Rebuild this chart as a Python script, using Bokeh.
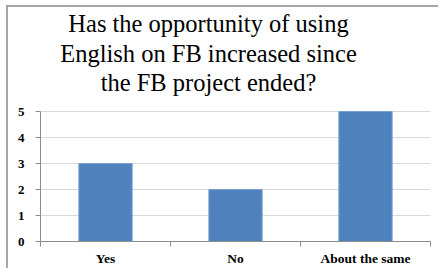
from bokeh.plotting import figure
from bokeh.models import ColumnDataSource, FixedTicker, Range1d
from bokeh.core.properties import value
from bokeh.embed import file_html
from bokeh.resources import INLINE

categories = ["Yes", "No", "About the same"]
counts = [3, 2, 5]
y_ticks = [0, 1, 2, 3, 4, 5]
title_lines = ["Has the opportunity of using", "English on FB increased since", "the FB project ended?"]

ymax = max(y_ticks)
y_top = 9.0  # room above the value axis for the title
xpos = [i + 0.5 for i in range(len(categories))]
src = ColumnDataSource(dict(x=xpos, top=counts))

p = figure(frame_width=390, frame_height=234, output_backend="svg", toolbar_location=None,
           x_range=Range1d(0, len(categories)), y_range=Range1d(0, y_top),
           min_border_left=32, min_border_right=8, min_border_bottom=25, min_border_top=0)
p.title = None

p.vbar(x="x", top="top", width=0.41, source=src, fill_color="#4F81BD", line_color="#7aa0d0", line_width=1)

tsrc = ColumnDataSource(dict(x=[len(categories) / 2] * len(title_lines), y=[y_top] * len(title_lines),
                             text=title_lines, yo=[16 + 29.5 * i for i in range(len(title_lines))]))
p.text(x="x", y="y", text="text", source=tsrc, x_offset=-27, y_offset="yo",
       text_align="center", text_baseline="alphabetic", text_font=value("Liberation Serif"),
       text_font_size="24.5px", text_color="#000000")

p.xaxis.ticker = FixedTicker(ticks=xpos, minor_ticks=list(range(len(categories) + 1)))
p.xaxis.major_label_overrides = {x: c for x, c in zip(xpos, categories)}
p.xaxis.major_tick_out = 0
p.xaxis.major_tick_in = 0
p.xaxis.minor_tick_out = 5
p.xaxis.minor_tick_in = 0
p.yaxis.ticker = FixedTicker(ticks=y_ticks)
p.yaxis.bounds = (0, ymax)
p.yaxis.major_tick_out = 5
p.yaxis.major_tick_in = 0
for ax in (p.xaxis, p.yaxis):
    ax.axis_line_color = "#8c8c8c"
    ax.major_tick_line_color = "#8c8c8c"
    ax.minor_tick_line_color = "#8c8c8c"
    ax.major_label_text_font = "Liberation Serif"
    ax.major_label_text_font_style = "bold"
    ax.major_label_text_font_size = "13.5px"
    ax.major_label_text_color = "#000000"
p.yaxis.minor_tick_line_color = None
p.yaxis.major_label_text_font_size = "13px"
p.xaxis.major_label_standoff = 4
p.yaxis.major_label_standoff = 11

p.xgrid.grid_line_color = None
p.ygrid.ticker = FixedTicker(ticks=y_ticks)
p.ygrid.grid_line_color = "#d9d9d9"
p.outline_line_color = None
p.styles = {"border-top": "2px solid #a6a6a6", "border-left": "2px solid #a6a6a6",
            "margin-top": "5px", "margin-left": "6px"}

open("out.html", "w").write(file_html(p, INLINE))
